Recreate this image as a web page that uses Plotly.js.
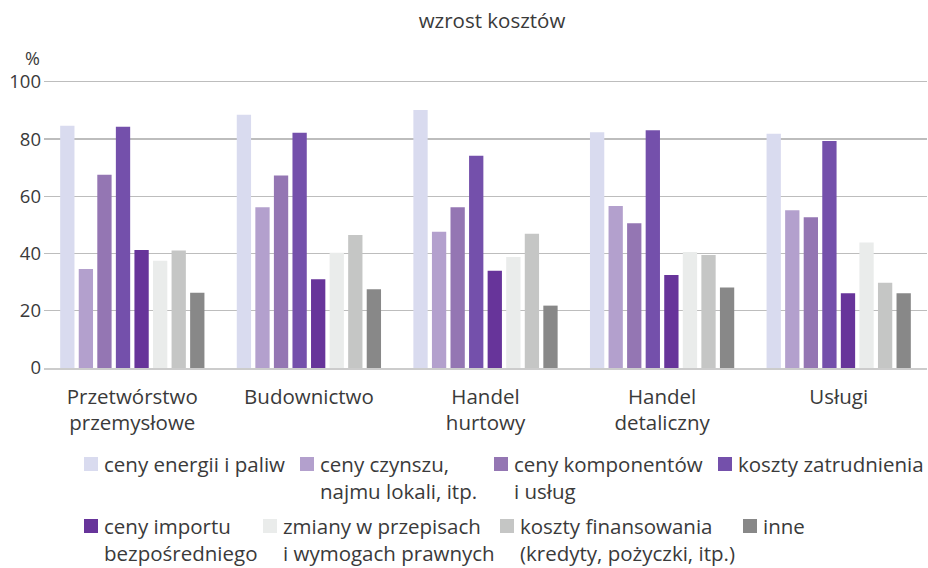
<!DOCTYPE html>
<html>
<head>
<meta charset="utf-8">
<script src="https://cdn.plot.ly/plotly-3.0.1.min.js"></script>
<style>html,body{margin:0;padding:0;background:#fff;}#chart{width:928px;height:568px;}</style>
</head>
<body>
<div id="chart"></div>
<script>
// ---- data ----
const categories = ['Przetwórstwo<br>przemysłowe', 'Budownictwo', 'Handel<br>hurtowy', 'Handel<br>detaliczny', 'Usługi'];
const seriesNames = [
  'ceny energii i paliw',
  'ceny czynszu,<br>najmu lokali, itp.',
  'ceny komponentów<br>i usług',
  'koszty zatrudnienia',
  'ceny importu<br>bezpośredniego',
  'zmiany w przepisach<br>i wymogach prawnych',
  'koszty finansowania<br>(kredyty, pożyczki, itp.)',
  'inne'
];
const energia      = [84.7, 88.5, 90.2, 82.4, 81.9];
const czynsz       = [34.6, 56.2, 47.6, 56.6, 55.1];
const komponenty   = [67.5, 67.3, 56.2, 50.6, 52.7];
const zatrudnienie = [84.3, 82.2, 74.2, 83.1, 79.3];
const importBezp   = [41.2, 31.0, 34.0, 32.5, 26.1];
const przepisy     = [37.5, 40.3, 38.8, 40.5, 43.9];
const finansowanie = [41.1, 46.5, 46.9, 39.5, 29.8];
const inne         = [26.3, 27.5, 21.8, 28.1, 26.1];
const seriesValues = [energia, czynsz, komponenty, zatrudnienie, importBezp, przepisy, finansowanie, inne];
const yTicks = [0, 20, 40, 60, 80, 100];

// ---- styles ----
const colors = ['#d9dbef', '#b3a0cd', '#9476b3', '#7450ab', '#67349a', '#eaeceb', '#c5c6c5', '#888888'];
const FONT = '"Open Sans", "Noto Sans", sans-serif';
const TXT = '#3a3a3a';

// plot area in pixels
const W = 928, H = 568;
const M = {l: 44, r: 1, t: 79, b: 200};
const PW = W - M.l - M.r, PH = H - M.t - M.b;
const px2x = px => (px - M.l) / PW;
const py2y = py => (H - M.b - py) / PH;

// legend layout (pixel positions of swatches)
const legendRows = [
  {items: [0, 1, 2, 3], swX: [84, 300, 494, 718], swTop: 457, lineGap: 0},
  {items: [4, 5, 6, 7], swX: [84, 263, 500, 743], swTop: 519, lineGap: 0}
];
const SW = 14, TEXT_GAP = 4.5, LEG_FONT = 20.5;

const traces = seriesValues.map((vals, i) => ({
  type: 'bar',
  name: seriesNames[i],
  x: categories,
  y: vals,
  marker: {color: colors[i], line: {width: 0}},
  hoverinfo: 'y+name'
}));

const shapes = [];
const annotations = [];
legendRows.forEach(row => {
  row.items.forEach((si, k) => {
    const x0 = row.swX[k];
    shapes.push({
      type: 'rect', xref: 'paper', yref: 'paper',
      x0: px2x(x0), x1: px2x(x0 + SW),
      y0: py2y(row.swTop + SW), y1: py2y(row.swTop),
      fillcolor: colors[si], line: {width: 0}
    });
    annotations.push({
      xref: 'paper', yref: 'paper',
      x: px2x(x0 + SW + TEXT_GAP), y: py2y(row.swTop - 8),
      xanchor: 'left', yanchor: 'top', align: 'left',
      text: seriesNames[si], showarrow: false, borderpad: 0,
      font: {family: FONT, size: LEG_FONT, color: TXT}
    });
  });
});
annotations.push({
  xref: 'paper', yref: 'paper', x: px2x(32), y: py2y(57.5),
  xanchor: 'center', yanchor: 'middle', text: '%', showarrow: false,
  borderpad: 0,
  font: {family: FONT, size: 18, color: TXT}
});

const layout = {
  width: W, height: H,
  margin: M,
  paper_bgcolor: '#fff', plot_bgcolor: '#fff',
  showlegend: false,
  barmode: 'group',
  bargap: 0.159,
  bargroupgap: 0.23,
  title: {
    text: 'wzrost kosztów',
    xref: 'container', yref: 'container',
    x: 492 / W, xanchor: 'center',
    y: 1 - 21 / H, yanchor: 'middle',
    font: {family: FONT, size: 20.5, color: TXT}
  },
  font: {family: FONT, color: TXT},
  xaxis: {
    type: 'category',
    showgrid: false, zeroline: false,
    showline: true, linecolor: '#cccccc', linewidth: 2,
    ticks: '', ticklabelstandoff: 9,
    tickfont: {family: FONT, size: 20.5, color: TXT}
  },
  yaxis: {
    range: [0, 101],
    tickvals: yTicks,
    showgrid: true, gridcolor: '#bdbdbd', gridwidth: 1.2,
    zeroline: false, showline: false,
    ticks: '', ticklabelstandoff: 2,
    tickfont: {family: FONT, size: 18.5, color: TXT}
  },
  shapes: shapes,
  annotations: annotations
};

Plotly.newPlot('chart', traces, layout, {displayModeBar: false, staticPlot: true});
</script>
</body>
</html>
